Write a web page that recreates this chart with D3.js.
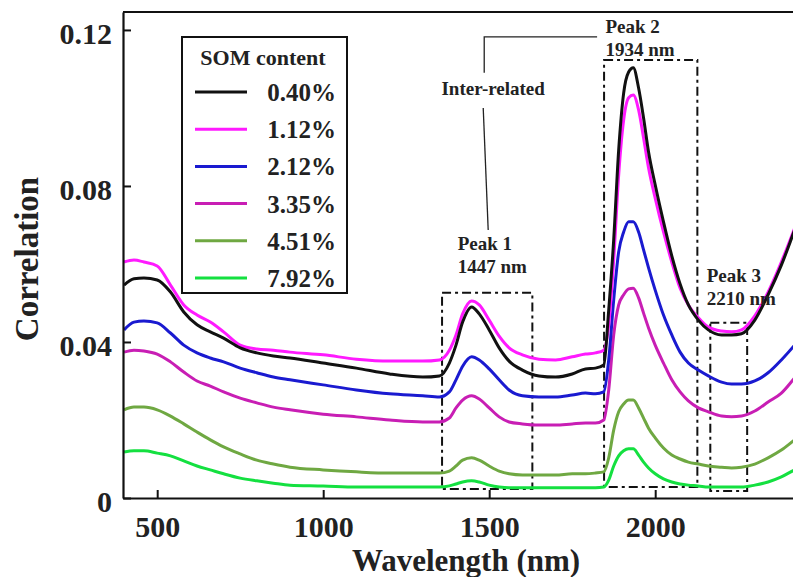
<!DOCTYPE html>
<html>
<head>
<meta charset="utf-8">
<script src="https://cdn.jsdelivr.net/npm/d3@7"></script>
<style>
  body { margin: 0; background: #fff; }
  text { font-family: "Liberation Serif", "Times New Roman", serif; font-weight: bold; fill: #222; }
</style>
</head>
<body>
<div id="chart"></div>
<script>
// wavelength grid (nm)
const wavelengths = [400, 430, 460, 500, 540, 580, 620, 660, 700, 750, 800, 850, 900, 1000, 1100, 1200, 1300, 1350,
  1380, 1400, 1420, 1447, 1470, 1500, 1530, 1560, 1600, 1650, 1700, 1750, 1790, 1820, 1845, 1860, 1875, 1890,
  1905, 1920, 1934, 1950, 1965, 1980, 2000, 2025, 2050, 2075, 2100, 2130, 2160, 2200, 2230, 2260, 2300, 2340,
  2380, 2420, 2460, 2500];

// correlation values per SOM content
const som040 = [.0546, .0562, .0564, .0559, .0528, .0477, .0444, .0426, .0410, .0385, .0372, .0364, .0359, .0346, .0333, .0318, .0310, .0313,
  .0346, .0392, .0451, .0490, .0472, .0431, .0385, .0351, .0328, .0313, .0310, .0318, .0331, .0333, .0341, .0482, .0662, .0892,
  .1038, .1092, .1103, .1051, .0974, .0887, .0803, .0708, .0621, .0549, .0495, .0456, .0431, .0418, .0418, .0421, .0456, .0521,
  .0597, .0687, .0777, .0867];
const som112 = [.0605, .0610, .0605, .0595, .0546, .0495, .0469, .0451, .0426, .0392, .0382, .0379, .0374, .0367, .0356, .0351, .0351, .0354,
  .0379, .0418, .0472, .0505, .0495, .0456, .0415, .0385, .0367, .0356, .0354, .0362, .0369, .0372, .0379, .0444, .0610, .0828,
  .0969, .1026, .1033, .0995, .0923, .0846, .0769, .0682, .0605, .0538, .0495, .0462, .0438, .0428, .0426, .0431, .0467, .0528,
  .0605, .0692, .0785, .0874];
const som212 = [.0431, .0451, .0454, .0449, .0423, .0392, .0372, .0359, .0349, .0333, .0321, .0310, .0303, .0290, .0277, .0267, .0262, .0259,
  .0272, .0303, .0338, .0362, .0354, .0331, .0303, .0277, .0262, .0259, .0259, .0264, .0269, .0267, .0272, .0354, .0508, .0631,
  .0682, .0708, .0708, .0682, .0636, .0590, .0533, .0469, .0418, .0374, .0346, .0328, .0313, .0297, .0292, .0292, .0300, .0321,
  .0354, .0392, .0436, .0482];
const som335 = [.0374, .0379, .0377, .0369, .0349, .0323, .0300, .0287, .0272, .0256, .0244, .0233, .0226, .0215, .0208, .0200, .0195, .0195,
  .0205, .0231, .0251, .0262, .0254, .0231, .0208, .0195, .0190, .0187, .0187, .0190, .0192, .0192, .0200, .0277, .0418, .0495,
  .0521, .0536, .0538, .0513, .0474, .0436, .0392, .0346, .0303, .0272, .0249, .0231, .0221, .0210, .0208, .0210, .0223, .0246,
  .0269, .0308, .0349, .0392];
const som451 = [.0226, .0233, .0233, .0226, .0210, .0190, .0169, .0149, .0131, .0113, .0097, .0087, .0079, .0072, .0067, .0064, .0064, .0064,
  .0069, .0082, .0097, .0103, .0097, .0082, .0069, .0062, .0059, .0059, .0059, .0062, .0062, .0064, .0067, .0103, .0174, .0221,
  .0241, .0251, .0251, .0231, .0205, .0179, .0154, .0128, .0110, .0100, .0092, .0087, .0082, .0079, .0077, .0079, .0087, .0103,
  .0123, .0149, .0174, .0200];
const som792 = [.0118, .0121, .0121, .0115, .0108, .0095, .0082, .0072, .0062, .0051, .0044, .0038, .0033, .0031, .0028, .0028, .0028, .0028,
  .0031, .0036, .0041, .0044, .0041, .0033, .0028, .0026, .0026, .0026, .0026, .0026, .0026, .0026, .0028, .0046, .0082, .0108,
  .0121, .0126, .0126, .0110, .0092, .0077, .0062, .0049, .0041, .0036, .0033, .0031, .0028, .0028, .0028, .0028, .0033, .0041,
  .0054, .0072, .0085, .0100];

const labels = ['0.40%', '1.12%', '2.12%', '3.35%', '4.51%', '7.92%'];
const colors = ['#111111', '#ff1aff', '#1a1ad0', '#c81eb4', '#6fa842', '#14e040'];
const seriesValues = [som040, som112, som212, som335, som451, som792];

const xTicks = [500, 1000, 1500, 2000];
const yTicks = [0, 0.04, 0.08, 0.12];

// peak boxes [x0, x1, yTop, yBottom] in data units
const peakBoxes = [
  [1358, 1630, 0.0526, 0.0023],
  [1846, 2127, 0.1123, 0.0028],
  [2166, 2277, 0.0449, 0.0018],
];
const peakTexts = [
  { nm: 1405, v: 0.0635, lines: ['Peak 1', '1447 nm'] },
  { nm: 1850, v: 0.1192, lines: ['Peak 2', '1934 nm'] },
  { nm: 2155, v: 0.0553, lines: ['Peak 3', '2210 nm'] },
];

const width = 793;
const height = 577;
const plot = { left: 123, top: 12, bottom: 498, right: 793 };

const svg = d3.select('#chart')
  .append('svg')
  .attr('width', width)
  .attr('height', height);

const x = d3.scaleLinear()
  .domain([397, 2500])
  .range([plot.left, plot.left + 2103 * 0.332]);
const y = d3.scaleLinear()
  .domain([0, 0.1246])
  .range([plot.bottom, plot.top]);

svg.append('clipPath').attr('id', 'clip')
  .append('rect')
  .attr('x', plot.left)
  .attr('y', plot.top)
  .attr('width', plot.right - plot.left)
  .attr('height', plot.bottom - plot.top);

// peak boxes
const dash = '9,4,3,4';
svg.append('g')
  .selectAll('rect')
  .data(peakBoxes)
  .join('rect')
  .attr('x', (d) => x(d[0]))
  .attr('y', (d) => y(d[2]))
  .attr('width', (d) => x(d[1]) - x(d[0]))
  .attr('height', (d) => y(d[3]) - y(d[2]))
  .attr('fill', 'none')
  .attr('stroke', '#111')
  .attr('stroke-width', 2)
  .attr('stroke-dasharray', dash);

// curves
const line = d3.line()
  .x((d, i) => x(wavelengths[i]))
  .y((d) => y(d))
  .curve(d3.curveMonotoneX);

const drawOrder = [5, 4, 3, 2, 1, 0];
svg.append('g')
  .attr('clip-path', 'url(#clip)')
  .selectAll('path')
  .data(drawOrder)
  .join('path')
  .attr('d', (i) => line(seriesValues[i]))
  .attr('fill', 'none')
  .attr('stroke', (i) => colors[i])
  .attr('stroke-width', 3)
  .attr('stroke-linejoin', 'round');

// axes
const yAxis = svg.append('g')
  .attr('transform', `translate(${plot.left},0)`)
  .call(d3.axisLeft(y)
    .tickValues(yTicks)
    .tickSizeInner(-8)
    .tickSizeOuter(0)
    .tickPadding(11)
    .tickFormat((d) => (d === 0 ? '0' : d.toFixed(2))));
yAxis.selectAll('text')
  .attr('font-size', 30)
  .attr('dy', '0.45em')
  .attr('fill', '#222');

const xAxis = svg.append('g')
  .attr('transform', `translate(0,${plot.bottom})`)
  .call(d3.axisBottom(x)
    .tickValues(xTicks)
    .tickSizeInner(-8)
    .tickSizeOuter(0)
    .tickPadding(18)
    .tickFormat(d3.format('d')));
xAxis.selectAll('text')
  .attr('font-size', 30)
  .attr('fill', '#222');

[yAxis, xAxis].forEach((axis) => {
  axis.select('.domain').attr('stroke', '#111').attr('stroke-width', 2.2);
  axis.selectAll('.tick line').attr('stroke', '#111').attr('stroke-width', 2);
  axis.attr('font-family', null);
});

// top frame
svg.append('line')
  .attr('x1', plot.left)
  .attr('x2', plot.right)
  .attr('y1', plot.top)
  .attr('y2', plot.top)
  .attr('stroke', '#111')
  .attr('stroke-width', 2.2);

// axis titles
svg.append('text')
  .attr('x', 466)
  .attr('y', 571)
  .attr('text-anchor', 'middle')
  .attr('font-size', 31)
  .text('Wavelength (nm)');
svg.append('text')
  .attr('transform', 'translate(38,259) rotate(-90)')
  .attr('text-anchor', 'middle')
  .attr('font-size', 33)
  .text('Correlation');

// peak labels
peakTexts.forEach((p) => {
  p.lines.forEach((t, k) => {
    svg.append('text')
      .attr('x', x(p.nm))
      .attr('y', y(p.v) + k * 23)
      .attr('font-size', 19)
      .text(t);
  });
});

// inter-related bracket
const bracket = [[1485, 0.1090], [1485, 0.1182], [1825, 0.1182]];
svg.append('path')
  .attr('d', d3.line().x((d) => x(d[0])).y((d) => y(d[1]))(bracket))
  .attr('fill', 'none')
  .attr('stroke', '#222')
  .attr('stroke-width', 1.3);
const stem = [[1482, 0.1000], [1497, 0.0687]];
svg.append('path')
  .attr('d', d3.line().x((d) => x(d[0])).y((d) => y(d[1]))(stem))
  .attr('fill', 'none')
  .attr('stroke', '#222')
  .attr('stroke-width', 1.3);
svg.append('text')
  .attr('x', x(1512))
  .attr('y', y(0.1033))
  .attr('text-anchor', 'middle')
  .attr('font-size', 19)
  .text('Inter-related');

// legend
const legend = svg.append('g');
legend.append('rect')
  .attr('x', 182)
  .attr('y', 37)
  .attr('width', 165)
  .attr('height', 256)
  .attr('fill', '#fff')
  .attr('stroke', '#111')
  .attr('stroke-width', 2);
legend.append('text')
  .attr('x', 263)
  .attr('y', 65)
  .attr('text-anchor', 'middle')
  .attr('font-size', 22)
  .text('SOM content');
const rowY = (i) => 92 + i * 37.2;
legend.selectAll('line.item')
  .data(labels)
  .join('line')
  .attr('class', 'item')
  .attr('x1', 195)
  .attr('x2', 247)
  .attr('y1', (d, i) => rowY(i))
  .attr('y2', (d, i) => rowY(i))
  .attr('stroke', (d, i) => colors[i])
  .attr('stroke-width', 3);
legend.selectAll('text.item')
  .data(labels)
  .join('text')
  .attr('class', 'item')
  .attr('x', 336)
  .attr('y', (d, i) => rowY(i) + 9)
  .attr('text-anchor', 'end')
  .attr('font-size', 25)
  .text((d) => d);
</script>
</body>
</html>
